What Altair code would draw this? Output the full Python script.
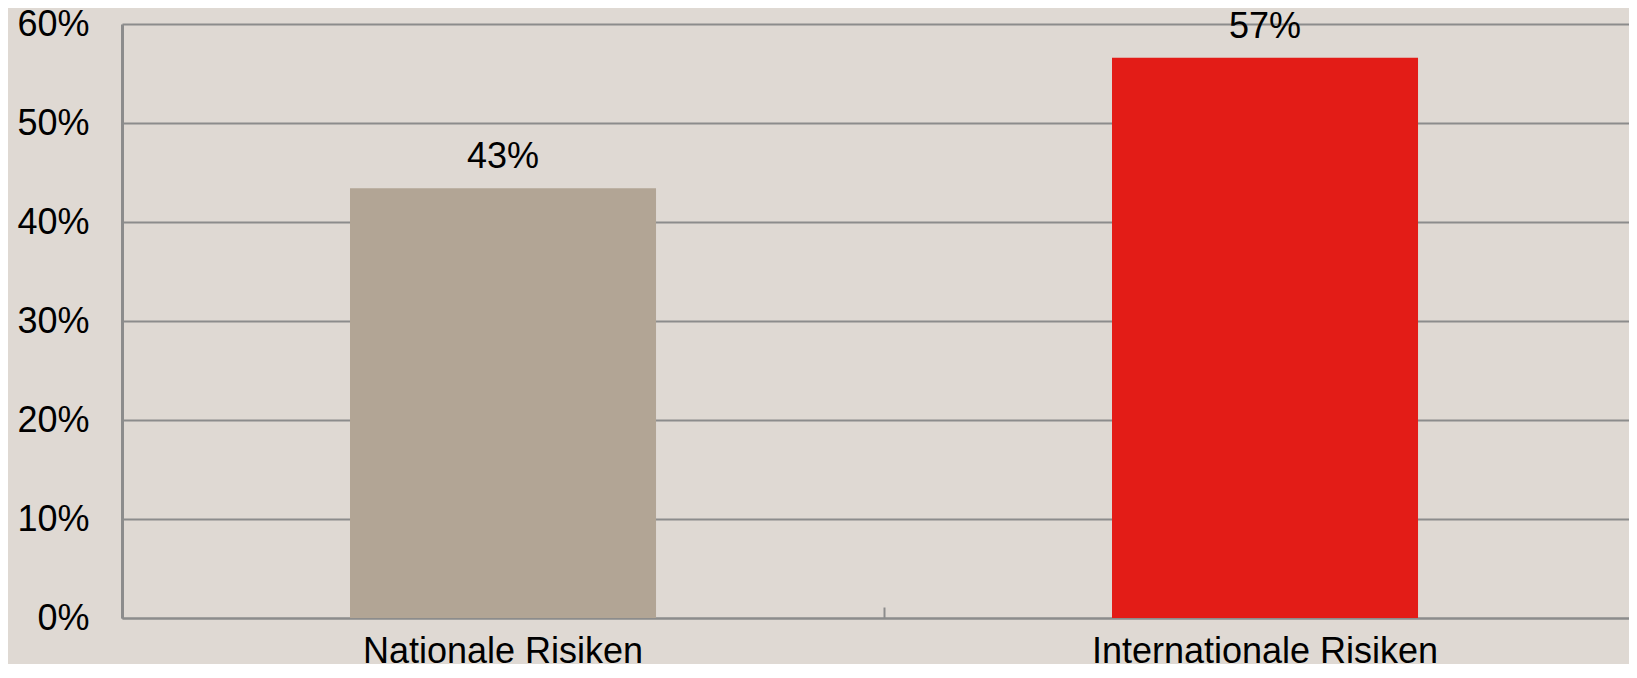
import altair as alt
import pandas as pd

categories = ["Nationale Risiken", "Internationale Risiken"]
values = [43.4, 56.6]
labels = ["43%", "57%"]
colors = ["#B2A595", "#E31C17"]
y_ticks = [0, 10, 20, 30, 40, 50, 60]

df = pd.DataFrame({"cat": categories, "val": values, "label": labels, "color": colors})

FONT = "Liberation Sans"
GRID = "#8C8C8C"

xscale = alt.Scale(domain=categories, paddingInner=0.5984, paddingOuter=0.28805, align=0.5194)
yscale = alt.Scale(domain=[0, 60], nice=False)

bars = alt.Chart(df).mark_bar().encode(
    x=alt.X("cat:N", scale=xscale, sort=categories,
            axis=alt.Axis(title=None, labelAngle=0, ticks=False, tickSize=0,
                          domain=True, domainColor=GRID, domainWidth=2,
                          labelFont=FONT, labelFontSize=36, labelColor="black",
                          labelBaseline="alphabetic", labelPadding=44, labelLimit=0, grid=False)),
    y=alt.Y("val:Q", scale=yscale,
            axis=alt.Axis(title=None, values=y_ticks, labelExpr="datum.value + '%'",
                          ticks=False, tickSize=0, domain=True, domainColor=GRID, domainWidth=3,
                          grid=True, gridColor=GRID, gridWidth=2,
                          labelFont=FONT, labelFontSize=36, labelColor="black", labelPadding=33)),
    color=alt.Color("color:N", scale=None),
)

text = alt.Chart(df).mark_text(font=FONT, fontSize=36, color="black", baseline="alphabetic", dy=-20).encode(
    x=alt.X("cat:N", scale=xscale, sort=categories,
            axis=alt.Axis(title=None, orient="top", offset=-594, labels=False, domain=False,
                          ticks=True, tickSize=11, tickWidth=2, tickColor=GRID,
                          bandPosition=0.5, tickOffset=-381, grid=False)),
    y=alt.Y("val:Q", scale=yscale),
    text="label:N",
)

chart = alt.layer(bars, text).resolve_axis(x="independent").properties(
    width=1507, height=594,
    autosize=alt.AutoSizeParams(type="none"),
    padding={"left": 114, "top": 16, "right": 0, "bottom": 46},
).configure(background="#DFD9D3").configure_view(stroke=None)

chart.save("out.html", embed_options={"renderer": "svg", "actions": False})
